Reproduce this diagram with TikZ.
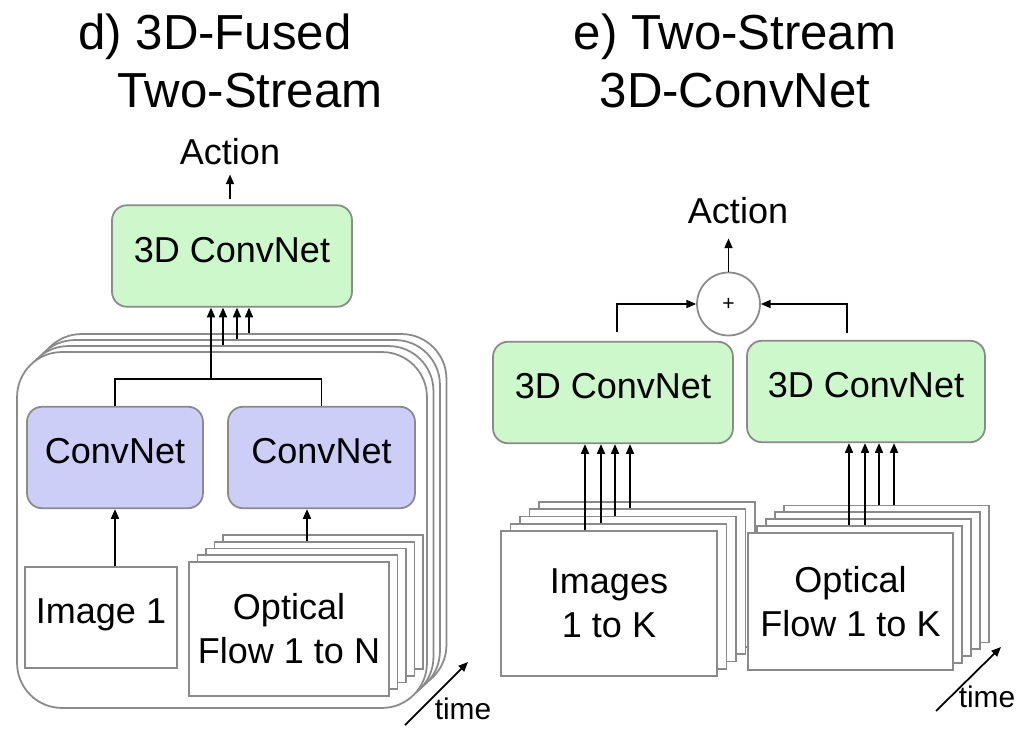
\documentclass[tikz,border=0pt]{standalone}
\usepackage{fontspec}
\setmainfont{Liberation Sans}
\usetikzlibrary{arrows.meta}
\definecolor{netgreen}{HTML}{CCF8CC}
\definecolor{netblue}{HTML}{CDCEF8}
\definecolor{boxgray}{HTML}{8A8A8A}

\begin{document}
\begin{tikzpicture}[x=0.02cm,y=-0.02cm,>={Triangle[length=5.5pt,width=4.5pt]},line width=1pt,
  txt/.style={font=\fontsize{20.5}{25}\selectfont,align=center},
  net/.style={txt,draw=boxgray,rounded corners=0.3cm,inner sep=0pt,text height=0.72em,text depth=0pt,minimum height=2.03cm},
  green3d/.style={net,fill=netgreen},
  blue2d/.style={net,fill=netblue},
  sheet/.style={txt,draw=boxgray,fill=white,inner sep=0pt},
  frame/.style={draw=boxgray,fill=white,rounded corners=0.9cm,minimum width=8.2cm,minimum height=7.12cm},
  title/.style={font=\fontsize{28}{34}\selectfont,anchor=base},
  timelbl/.style={font=\fontsize{17}{20}\selectfont}]
\useasboundingbox (0,0) rectangle (1030,736);

% titles
\node[title](titleD1) at (215,50){d) 3D-Fused};
\node[title](titleD2) at (250,108){Two-Stream};
\node[title](titleE1) at (735,50){e) Two-Stream};
\node[title](titleE2) at (735,108){3D-ConvNet};

% d) 3D-fused two-stream
\foreach \i in {3,2,1}
  \node[frame](frame\i) at (222+6.5*\i,530-6*\i){};
\node[frame](frame0) at (222,530){};
\node[green3d,minimum width=4.8cm](fused) at (232,256){3D ConvNet};
\node[txt](actD) at (230,152){Action};
\node[blue2d,minimum width=3.52cm](convI) at (115,457.5){ConvNet};
\node[blue2d,minimum width=3.74cm](convF) at (321.5,457.5){ConvNet};
\node[sheet,minimum width=3.04cm,minimum height=2.02cm,text height=0.72em,text depth=0pt](img1) at (101,617.5){Image 1};
\foreach \i in {4,3,2,1}
  \node[sheet,minimum width=4cm,minimum height=2.68cm](flowN\i) at (289+8.5*\i,629-6.7*\i){};
\node[sheet,minimum width=4cm,minimum height=2.68cm](flowN0) at (289,629){Optical\\Flow 1 to N};

\coordinate (join) at (211,379);
\draw (convI.north) |- (join) -| (convF.north);
\draw[->] (join) -- (join |- fused.south);
\foreach \i/\x in {1/223,2/237,3/249}
  \draw[->] (frame\i.north -| \x,0) -- (\x,0 |- fused.south);
\draw[->] (convI.south |- img1.north) -- (convI.south);
\draw[->] (flowN3.north -| 307,0) -- (307,0 |- convF.south);
\draw[->,shorten <=0.1cm,shorten >=0.05cm] (actD.south |- fused.north) -- (actD.south);

\coordinate (tailD) at (405,725);
\coordinate (headD) at (468,662);
\draw[->] (tailD) -- (headD);
\node[timelbl](timeD) at (463,709){time};

% e) two-stream 3D-ConvNet
\node[txt](actE) at (738,211){Action};
\node[circle,draw=boxgray,fill=white,minimum size=1.26cm,inner sep=0pt,font=\fontsize{12}{14}\selectfont](plus) at (728.5,304){+};
\node[green3d,minimum width=4.8cm](c3dI) at (613,392.5){3D ConvNet};
\node[green3d,minimum width=4.76cm](c3dF) at (866,391.5){3D ConvNet};
\draw[->,shorten >=0.15cm] (plus.north) -- (plus.north |- actE.south);
\draw[->,shorten <=0.18cm] (c3dI.north -| 617,0) |- (plus.west);
\draw[->,shorten <=0.14cm] (c3dF.north -| 847,0) |- (plus.east);

\foreach \i in {4,3,2,1}
  \node[sheet,minimum width=4.32cm,minimum height=2.9cm](imgK\i) at (609+9.5*\i,603.5-7.25*\i){};
\node[sheet,minimum width=4.32cm,minimum height=2.9cm](imgK0) at (609,603.5){Images\\1 to K};
\foreach \i in {4,3,2,1}
  \node[sheet,minimum width=4.1cm,minimum height=2.74cm](flowK\i) at (850.5+9*\i,601.5-6.9*\i){};
\node[sheet,minimum width=4.1cm,minimum height=2.74cm](flowK0) at (850.5,601.5){Optical\\Flow 1 to K};

\foreach \i/\x in {0/585,1/601,2/615,3/630}
  \draw[->] (imgK\i.north -| \x,0) -- (\x,0 |- c3dI.south);
\foreach \i/\x in {1/849,1/865,4/879,4/894}
  \draw[->] (flowK\i.north -| \x,0) -- (\x,0 |- c3dF.south);

\coordinate (tailE) at (936,711);
\coordinate (headE) at (1001,647);
\draw[->] (tailE) -- (headE);
\node[timelbl](timeE) at (987,697){time};
\end{tikzpicture}
\end{document}
